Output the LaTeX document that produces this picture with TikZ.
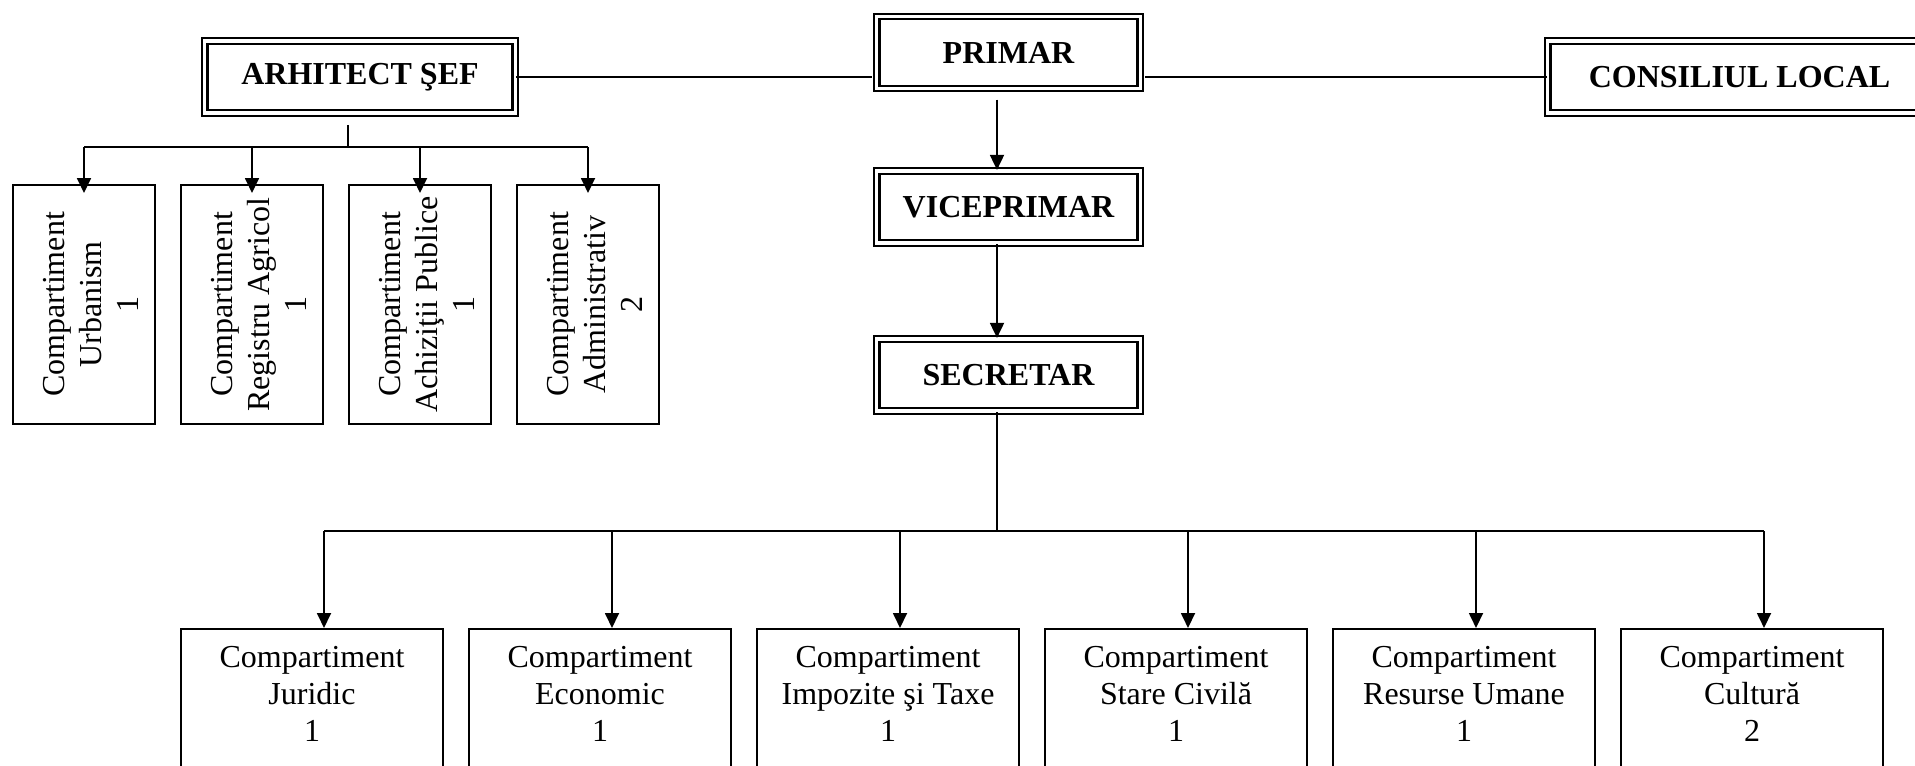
\documentclass[tikz,border=0pt]{standalone}
\usepackage{fontspec}
\setmainfont{Liberation Serif}
\usepackage{graphicx}
\usetikzlibrary{arrows.meta, positioning, calc}

\begin{document}
\begin{tikzpicture}[x=0.5pt, y=-0.5pt, line width=0.9pt,
  headbox/.style={draw, double, double distance=1.6pt, line width=1.1pt, inner sep=0pt,
    minimum height=36pt, font=\bfseries\fontsize{16}{18.5}\selectfont},
  sidebox/.style={draw, line width=1pt, inner sep=0pt, minimum width=71pt,
    minimum height=119.5pt, font=\fontsize{16}{18.5}\selectfont},
  deptbox/.style={draw, line width=1pt, anchor=north, inner xsep=0pt, inner ysep=8.5pt,
    minimum width=131pt, align=center, font=\fontsize{16}{18.5}\selectfont},
  arr/.style={-{Triangle[length=7.5pt,width=7pt]}}
]

\useasboundingbox (0,0) rectangle (1915,765);
\clip (0,0) rectangle (1915,765);

%head boxes
  \node[headbox, minimum width=131.7pt] (primar)   at (1008.5,52.5) {PRIMAR};
  \node[headbox, minimum width=131.7pt] (vice)     at (1008.5,207)  {VICEPRIMAR};
  \node[headbox, minimum width=131.7pt] (secretar) at (1008.5,375)  {SECRETAR};
  \node[headbox, minimum width=155.2pt] (arhitect) at (360,77)      {ARHITECT ŞEF};
  \node[headbox, minimum width=191.7pt] (consiliu) at (1739.5,77)   {CONSILIUL LOCAL};

%compartments under the architect
  \foreach \n/\x/\lbl/\nr in {urb/84/Urbanism/1, reg/252/Registru Agricol/1,
      ach/420/Achiziţii Publice/1, adm/588/Administrativ/2}
    \node[sidebox] (\n) at (\x,304.5)
      {\hspace*{10pt}\rotatebox{90}{\begin{tabular}{@{}c@{}}Compartiment\\\lbl\\\nr\end{tabular}}};

%compartments under the secretary
  \foreach \n/\x/\lbl/\nr in {jur/312/Juridic/1, eco/600/Economic/1,
      imp/888/Impozite şi Taxe/1, civ/1176/Stare Civilă/1,
      rum/1464/Resurse Umane/1, cul/1752/Cultură/2}
    \node[deptbox] (\n) at (\x,628) {Compartiment\\\lbl\\\nr\rule[-45pt]{0pt}{45pt}};

%links at the top
  \draw[shorten >=1.9pt] (arhitect.east) -- (arhitect.east -| primar.west);
  \draw[shorten <=1.9pt] (consiliu.west -| primar.east) -- (consiliu.west);
  \draw[arr] ([xshift=-5.75pt,yshift=-5pt]primar.south) -- ([xshift=-5.75pt]vice.north);
  \draw[arr] ([xshift=-5.75pt]vice.south) -- ([xshift=-5.75pt]secretar.north);

%branches of the architect
  \coordinate (abus) at (348,147);
  \draw ([yshift=-5.4pt]abus |- arhitect.south) -- (abus);
  \draw (urb.north |- abus) -- (adm.north |- abus);
  \foreach \n in {urb,reg,ach,adm}
    \draw[arr, shorten >=-4.5pt] (\n.north |- abus) -- (\n.north);

%branches of the secretary
  \coordinate (sbus) at (997,531);
  \draw ([xshift=-5.75pt]secretar.south) -- (sbus);
  \foreach \n in {jur,eco,imp,civ,rum,cul}
    \coordinate (in\n) at ([xshift=6pt]\n.north);
  \draw (injur |- sbus) -- (incul |- sbus);
  \foreach \n in {jur,eco,imp,civ,rum,cul}
    \draw[arr] (in\n |- sbus) -- (in\n);
\end{tikzpicture}
\end{document}
